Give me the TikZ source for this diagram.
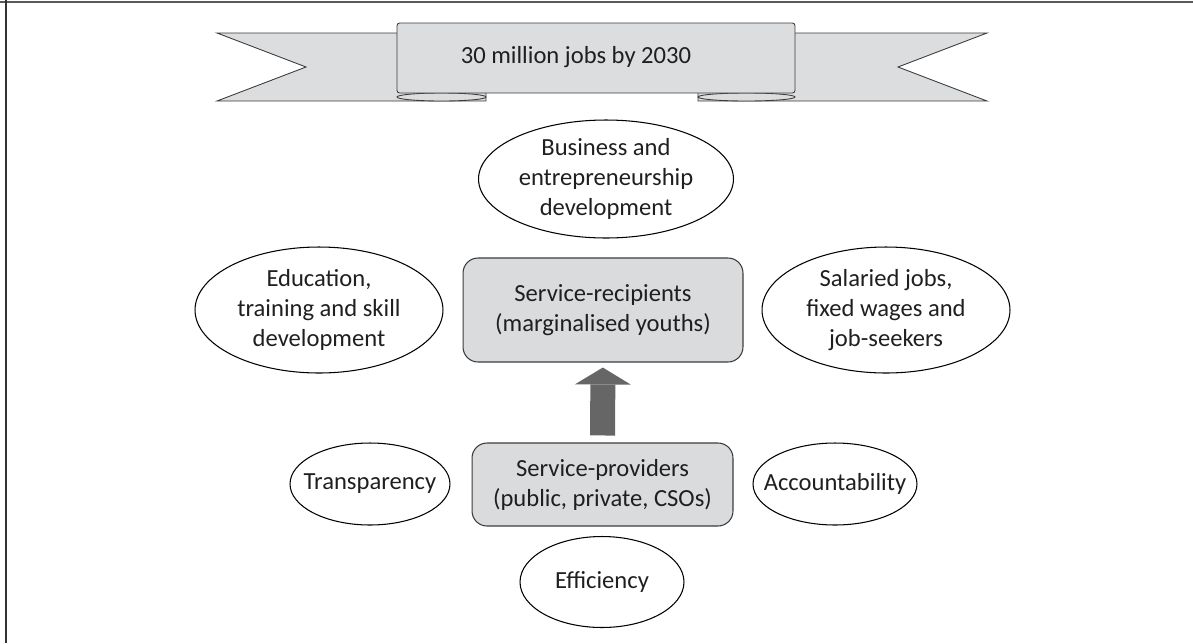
\documentclass[tikz,border=0pt]{standalone}
\usepackage{fontspec}
\setmainfont{Carlito}
\usetikzlibrary{shapes.geometric,arrows.meta}

\definecolor{bandgray}{HTML}{DCDDDE}
\definecolor{boxgray}{HTML}{DADBDC}
\definecolor{edgegray}{HTML}{3C3C3C}
\definecolor{arrowgray}{HTML}{666666}

\begin{document}
\begin{tikzpicture}
  [x=0.02cm, y=-0.02cm,
   every node/.style={font=\fontsize{14}{17}\selectfont, text=black!88, align=center},
   oval/.style={ellipse, draw, line width=0.6pt, inner sep=0pt},
   short/.style={inner xsep=-0.3cm},
   party/.style={draw=edgegray, fill=boxgray, rounded corners=0.3cm, line width=0.6pt},
   band/.style={draw=edgegray, fill=bandgray, line width=0.5pt},
   lift/.style={draw=arrowgray, line width=0.5cm,
     -{Triangle[width=1.12cm, length=0.34cm, line width=0pt]}}]
  \useasboundingbox (0,0) rectangle (1193,643);
  \draw[black!65, line width=1.2pt] (0,2) -- (1193,2);
  \draw[black!80, line width=1.2pt] (6,0) -- (6,643);

  % banner: tails, rolled folds, front panel
  \draw[band] (217,33) -- (486,33) -- (486,101) -- (217,101) -- (306,67) -- cycle;
  \draw[band] (987,33) -- (698,33) -- (698,101) -- (987,101) -- (898,67) -- cycle;
  \draw[band] (441.5,97) ellipse (44.5 and 4);
  \draw[band] (746.5,97) ellipse (48.5 and 4);
  \draw[band, rounded corners=1.5] (397,93) -- (397,23) -- (795,23) -- (795,93) -- cycle;
  \node (goal) at (576,57) {30 million jobs by 2030};

  \node[oval, minimum width=5.1cm, minimum height=2.36cm] (biz) at (606,179)
    {Business and\\entrepreneurship\\development};
  \node[oval, minimum width=4.96cm, minimum height=2.52cm] (edu) at (319,310)
    {Education,\\training and skill\\development};
  \node[oval, minimum width=4.96cm, minimum height=2.52cm] (wage) at (886,310)
    {Salaried jobs,\\fixed wages and\\job-seekers};
  \node[party, minimum width=5.6cm, minimum height=2.08cm] (recip) at (603,310)
    {Service-recipients\\(marginalised youths)};
  \node[party, minimum width=5.22cm, minimum height=1.66cm] (prov) at (602.5,484.5)
    {Service-providers\\(public, private, CSOs)};
  \node[oval, short, minimum width=3.2cm, minimum height=1.64cm] (trans) at (370,484)
    {Transparency};
  \node[oval, short, minimum width=3.28cm, minimum height=1.64cm] (acct) at (835,484)
    {Accountability};
  \node[oval, short, minimum width=3.28cm, minimum height=1.82cm] (eff) at (602,582)
    {Efficiency};

  \draw[lift, shorten <=0.14cm, shorten >=0.1cm] (prov) -- (recip);
\end{tikzpicture}
\end{document}
